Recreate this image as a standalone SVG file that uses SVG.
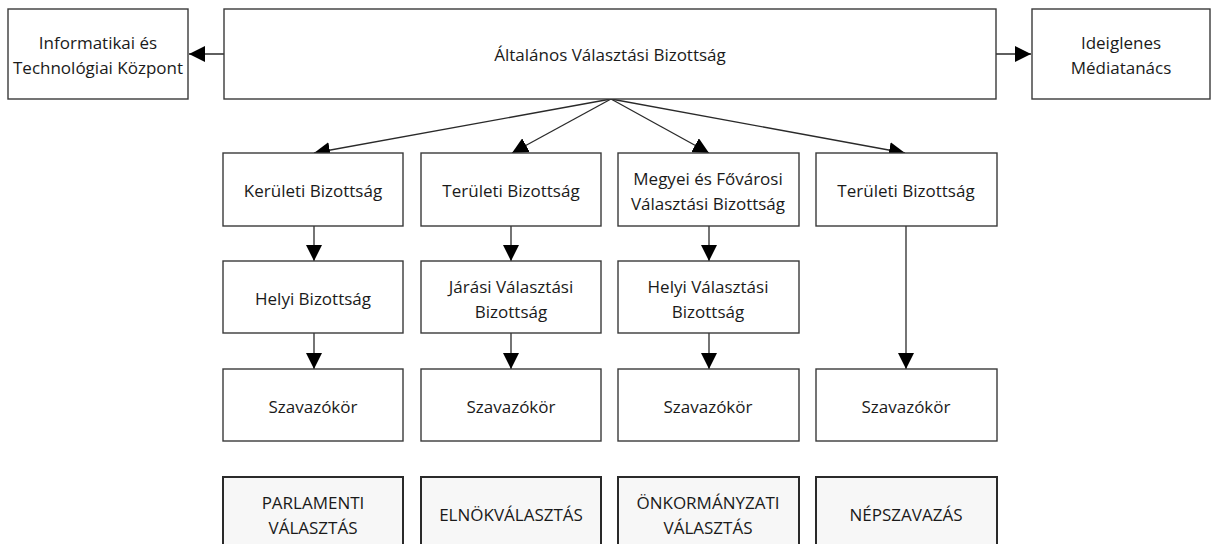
<svg xmlns="http://www.w3.org/2000/svg" width="1211" height="544" viewBox="0 0 1211 544">
<style>
.b{fill:#fff;stroke:#3a3a3a;stroke-width:1.4}
.f{fill:#f7f7f7;stroke:#2a2a2a;stroke-width:2}
.t{font-family:"Open Sans","Noto Sans",sans-serif;font-size:17px;fill:#1a1a1a;text-anchor:middle;dominant-baseline:central}
.c{stroke:#2a2a2a;stroke-width:1.3;fill:none;marker-end:url(#a)}
</style>
<defs>
<marker id="a" markerUnits="userSpaceOnUse" markerWidth="18" markerHeight="16" refX="16" refY="8" orient="auto">
<path d="M0,0 L16,8 L0,16 Z" fill="#000"/>
</marker>
</defs>
<g id="connectors">
<line class="c" x1="224" y1="54" x2="189" y2="54"/>
<line class="c" x1="996" y1="54" x2="1031" y2="54"/>
<line class="c" x1="611" y1="99" x2="314" y2="153"/>
<line class="c" x1="611" y1="99" x2="512" y2="153"/>
<line class="c" x1="611" y1="99" x2="709" y2="153"/>
<line class="c" x1="611" y1="99" x2="905" y2="153"/>
<line class="c" x1="314" y1="226" x2="314" y2="261"/>
<line class="c" x1="511" y1="226" x2="511" y2="261"/>
<line class="c" x1="709" y1="226" x2="709" y2="261"/>
<line class="c" x1="314" y1="333" x2="314" y2="369"/>
<line class="c" x1="511" y1="333" x2="511" y2="369"/>
<line class="c" x1="709" y1="333" x2="709" y2="369"/>
<line class="c" x1="906" y1="226" x2="906" y2="369"/>
</g>
<g id="itk"><rect class="b" x="8" y="9" width="180" height="90"/><text class="t" x="98" y="42">Informatikai és</text><text class="t" x="98" y="67">Technológiai Központ</text></g>
<g id="avb"><rect class="b" x="224" y="9" width="772" height="90"/><text class="t" x="610" y="54">Általános Választási Bizottság</text></g>
<g id="im"><rect class="b" x="1032" y="9" width="178" height="90"/><text class="t" x="1121" y="42">Ideiglenes</text><text class="t" x="1121" y="67">Médiatanács</text></g>
<g id="kb"><rect class="b" x="223" y="153" width="180" height="73"/><text class="t" x="313" y="190">Kerületi Bizottság</text></g>
<g id="tb1"><rect class="b" x="421" y="153" width="180" height="73"/><text class="t" x="511" y="190">Területi Bizottság</text></g>
<g id="mfvb"><rect class="b" x="618" y="153" width="181" height="73"/><text class="t" x="708" y="178">Megyei és Fővárosi</text><text class="t" x="708" y="203">Választási Bizottság</text></g>
<g id="tb2"><rect class="b" x="816" y="153" width="181" height="73"/><text class="t" x="906" y="190">Területi Bizottság</text></g>
<g id="hb"><rect class="b" x="223" y="261" width="180" height="72"/><text class="t" x="313" y="298">Helyi Bizottság</text></g>
<g id="jvb"><rect class="b" x="421" y="261" width="180" height="72"/><text class="t" x="511" y="286">Járási Választási</text><text class="t" x="511" y="311">Bizottság</text></g>
<g id="hvb"><rect class="b" x="618" y="261" width="181" height="72"/><text class="t" x="708" y="286">Helyi Választási</text><text class="t" x="708" y="311">Bizottság</text></g>
<g id="sz1"><rect class="b" x="223" y="369" width="180" height="72"/><text class="t" x="313" y="406">Szavazókör</text></g>
<g id="sz2"><rect class="b" x="421" y="369" width="180" height="72"/><text class="t" x="511" y="406">Szavazókör</text></g>
<g id="sz3"><rect class="b" x="618" y="369" width="181" height="72"/><text class="t" x="708" y="406">Szavazókör</text></g>
<g id="sz4"><rect class="b" x="816" y="369" width="181" height="72"/><text class="t" x="906" y="406">Szavazókör</text></g>
<g id="pv"><rect class="f" x="223" y="477" width="180" height="80"/><text class="t" x="313" y="502">PARLAMENTI</text><text class="t" x="313" y="527">VÁLASZTÁS</text></g>
<g id="ev"><rect class="f" x="421" y="477" width="180" height="80"/><text class="t" x="511" y="514">ELNÖKVÁLASZTÁS</text></g>
<g id="ov"><rect class="f" x="618" y="477" width="181" height="80"/><text class="t" x="708" y="502">ÖNKORMÁNYZATI</text><text class="t" x="708" y="527">VÁLASZTÁS</text></g>
<g id="nsz"><rect class="f" x="816" y="477" width="181" height="80"/><text class="t" x="906" y="514">NÉPSZAVAZÁS</text></g>
</svg>
